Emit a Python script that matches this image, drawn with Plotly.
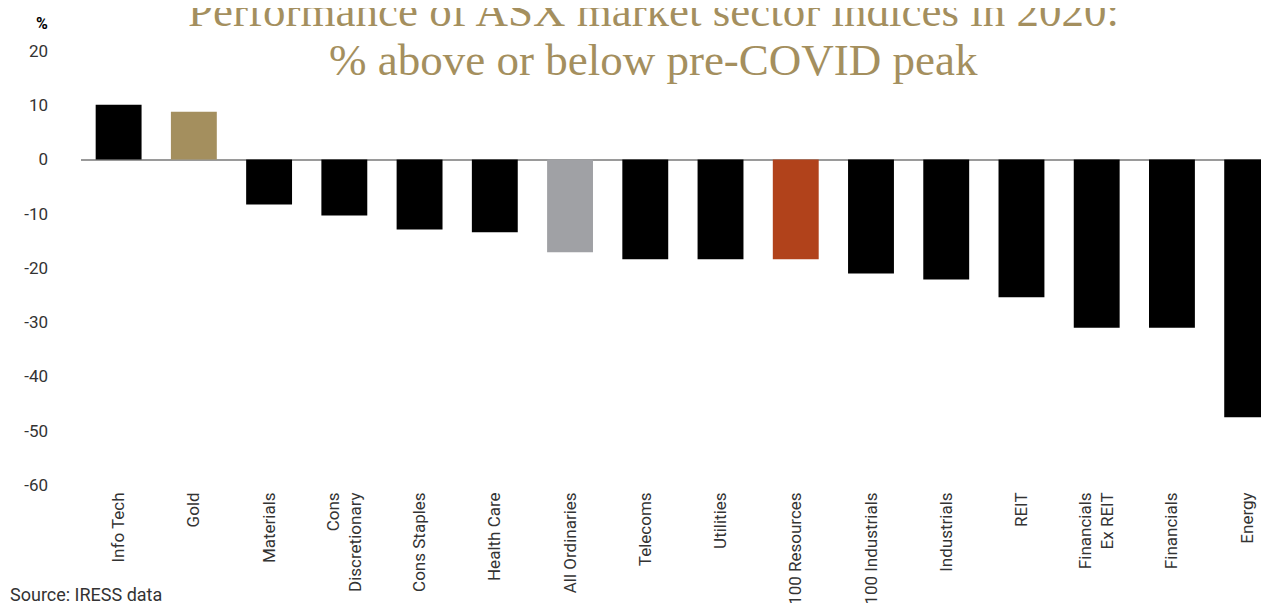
import plotly.graph_objects as go

categories = ["Info Tech", "Gold", "Materials", "Cons<br>Discretionary", "Cons Staples",
              "Health Care", "All Ordinaries", "Telecoms", "Utilities", "ASX 100 Resources",
              "ASX 100 Industrials", "Industrials", "REIT", "Financials<br>Ex REIT",
              "Financials", "Energy"]
values = [10.1, 8.8, -8.3, -10.3, -12.9, -13.4, -17.1, -18.4, -18.4, -18.4,
          -21.0, -22.1, -25.4, -31.0, -31.0, -47.5]
bar_colors = ["#000000", "#a48f5e", "#000000", "#000000", "#000000", "#000000",
              "#a0a1a5", "#000000", "#000000", "#b1421b", "#000000", "#000000",
              "#000000", "#000000", "#000000", "#000000"]
y_ticks = [20, 10, 0, -10, -20, -30, -40, -50, -60]
title_lines = ["Performance of ASX market sector indices in 2020:", "% above or below pre-COVID peak"]

# page has an 8px body margin; work in page pixels and offset
O = 8
W, H = 1269 - O, 603 - O
m_l, m_r, m_t, m_b = 81 - O, 0, 51 - O, 118
plot_h = H - m_t - m_b
plot_w = W - m_l - m_r


def px_x(px):
    return (px - O - m_l) / plot_w


def px_y(py):
    return (H - m_b - (py - O)) / plot_h


fig = go.Figure(go.Bar(
    x=list(range(len(categories))), y=values,
    marker=dict(color=bar_colors, line=dict(width=0)),
    width=0.61,
))

fig.update_layout(
    width=W, height=H,
    margin=dict(l=m_l, r=m_r, t=m_t, b=m_b, autoexpand=False),
    plot_bgcolor="white", paper_bgcolor="white",
    showlegend=False,
    font=dict(family="Roboto", color="#333333", size=16),
    xaxis=dict(
        range=[-0.5, 15.29], automargin=False,
        tickmode="array", tickvals=list(range(len(categories))), ticktext=categories,
        tickangle=-90, showgrid=False, zeroline=False, showline=False, ticks="",
        ticklabelstandoff=3,
        tickfont=dict(family="Roboto", size=17, color="#333333"),
    ),
    yaxis=dict(
        range=[-60, 20], automargin=False, tickmode="array", tickvals=y_ticks,
        ticktext=[str(v) for v in y_ticks],
        showgrid=False, zeroline=True, zerolinecolor="#9a9a9a", zerolinewidth=2,
        showline=False, ticks="", ticklabelstandoff=32,
        tickfont=dict(family="Roboto", size=17, color="#333333"),
    ),
    annotations=[
        dict(text=title_lines[0], xref="paper", yref="paper", x=px_x(653), y=px_y(11),
             xanchor="center", yanchor="middle", showarrow=False,
             font=dict(family="Liberation Serif", size=45, color="#a48f5e")),
        dict(text=title_lines[1], xref="paper", yref="paper", x=px_x(653), y=px_y(60),
             xanchor="center", yanchor="middle", showarrow=False,
             font=dict(family="Liberation Serif", size=45, color="#a48f5e")),
        dict(text="<b>%</b>", xref="paper", yref="paper", x=px_x(42), y=px_y(24),
             xanchor="center", yanchor="middle", showarrow=False,
             font=dict(family="Roboto", size=16, color="#000000")),
        dict(text="Source: IRESS data", xref="paper", yref="paper", x=px_x(8), y=px_y(594),
             xanchor="left", yanchor="middle", showarrow=False,
             font=dict(family="Roboto", size=18, color="#333333")),
    ],
)

fig.write_html("out.html")
